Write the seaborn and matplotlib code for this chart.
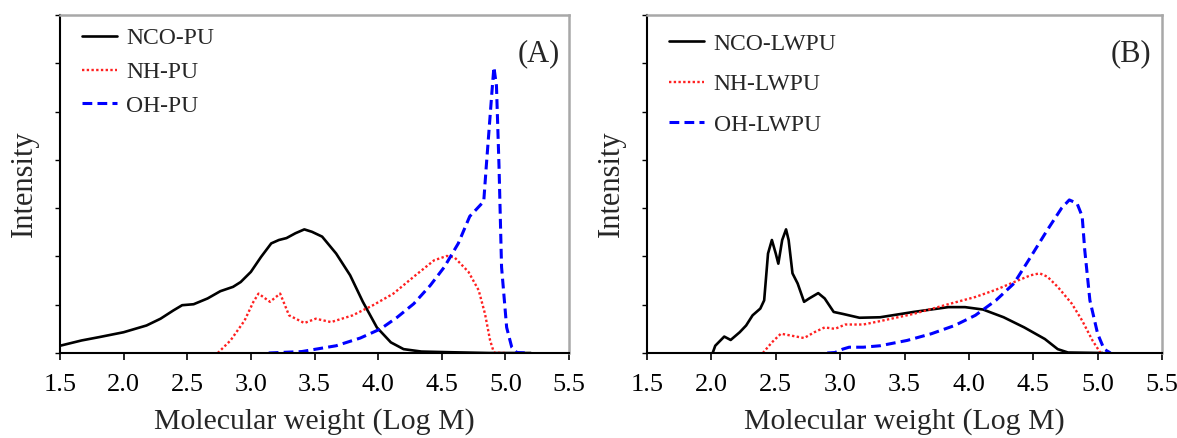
import numpy as np
import pandas as pd
import matplotlib
matplotlib.use('Agg')
import matplotlib.pyplot as plt
import seaborn as sns

# ---- Panel A: PU samples ----
nco_pu_x = [1.5, 1.67, 1.81, 2.0, 2.18, 2.29, 2.39, 2.46, 2.55, 2.66, 2.76, 2.86, 2.92, 3.0, 3.08,
            3.16, 3.22, 3.28, 3.35, 3.42, 3.48, 3.56, 3.67, 3.78, 3.88, 3.99, 4.10, 4.20, 4.34, 4.6, 4.87, 5.2]
nco_pu_y = [0.15, 0.26, 0.33, 0.43, 0.57, 0.71, 0.88, 0.99, 1.01, 1.13, 1.28, 1.37, 1.47, 1.68, 1.99,
            2.27, 2.34, 2.38, 2.48, 2.56, 2.51, 2.41, 2.06, 1.61, 1.06, 0.53, 0.22, 0.08, 0.03, 0.014, 0.0, 0.0]

nh_pu_x = [2.74, 2.84, 2.95, 3.02, 3.06, 3.15, 3.23, 3.30, 3.42, 3.51, 3.63, 3.80, 3.96, 4.12, 4.28,
           4.44, 4.54, 4.60, 4.71, 4.79, 4.84, 4.88, 4.91, 5.0]
nh_pu_y = [0.0, 0.26, 0.67, 1.06, 1.23, 1.06, 1.23, 0.78, 0.62, 0.71, 0.64, 0.78, 0.99, 1.23, 1.58,
           1.92, 2.01, 1.98, 1.68, 1.30, 0.81, 0.26, 0.01, 0.0]

oh_pu_x = [3.14, 3.40, 3.67, 3.86, 4.02, 4.15, 4.28, 4.41, 4.52, 4.63, 4.72, 4.77, 4.83, 4.85, 4.88,
           4.90, 4.91, 4.93, 4.95, 4.97, 5.01, 5.05, 5.09, 5.18]
oh_pu_y = [0.0, 0.03, 0.15, 0.31, 0.5, 0.74, 1.02, 1.40, 1.78, 2.27, 2.83, 2.97, 3.14, 3.87, 4.91,
           5.60, 5.92, 5.53, 3.87, 1.78, 0.53, 0.12, 0.01, 0.0]

# ---- Panel B: LWPU samples ----
nco_lw_x = [2.01, 2.03, 2.10, 2.15, 2.22, 2.27, 2.32, 2.38, 2.41, 2.44, 2.47, 2.50, 2.52, 2.55, 2.58,
            2.60, 2.63, 2.67, 2.72, 2.76, 2.83, 2.88, 2.95, 3.02, 3.15, 3.31, 3.57, 3.84, 3.97, 4.11,
            4.27, 4.43, 4.59, 4.69, 4.77, 5.04]
nco_lw_y = [0.0, 0.15, 0.34, 0.27, 0.43, 0.57, 0.78, 0.92, 1.09, 2.06, 2.34, 2.06, 1.85, 2.34, 2.56,
            2.34, 1.65, 1.44, 1.06, 1.13, 1.24, 1.13, 0.85, 0.81, 0.73, 0.74, 0.85, 0.95, 0.95, 0.90,
            0.74, 0.53, 0.29, 0.08, 0.01, 0.0]

nh_lw_x = [2.40, 2.47, 2.54, 2.62, 2.72, 2.80, 2.88, 2.96, 3.04, 3.18, 3.31, 3.57, 3.84, 4.05, 4.21,
           4.37, 4.48, 4.55, 4.61, 4.69, 4.80, 4.88, 4.96, 5.02]
nh_lw_y = [0.0, 0.22, 0.40, 0.36, 0.31, 0.43, 0.53, 0.50, 0.59, 0.59, 0.66, 0.81, 1.01, 1.16, 1.31,
           1.49, 1.61, 1.65, 1.58, 1.37, 1.02, 0.67, 0.26, 0.01]

oh_lw_x = [2.90, 2.96, 3.02, 3.07, 3.18, 3.31, 3.52, 3.71, 3.89, 4.05, 4.21, 4.35, 4.48, 4.61, 4.72,
           4.78, 4.84, 4.88, 4.90, 4.94, 5.0, 5.05, 5.10]
oh_lw_y = [0.0, 0.01, 0.08, 0.12, 0.12, 0.15, 0.26, 0.40, 0.57, 0.78, 1.09, 1.44, 1.99, 2.55, 3.0,
           3.17, 3.10, 2.83, 2.13, 1.09, 0.40, 0.08, 0.0]

labels_a = ['NCO-PU', 'NH-PU', 'OH-PU']
labels_b = ['NCO-LWPU', 'NH-LWPU', 'OH-LWPU']
x_ticks = [1.5, 2.0, 2.5, 3.0, 3.5, 4.0, 4.5, 5.0, 5.5]

sns.set_style("ticks")
plt.rcParams['font.family'] = ['Liberation Serif', 'DejaVu Serif']

fig = plt.figure(figsize=(11.77, 4.38), dpi=100)
ax_a = fig.add_axes([60 / 1177, 85 / 438, 509 / 1177, 338 / 438])
ax_b = fig.add_axes([647 / 1177, 85 / 438, 515 / 1177, 338 / 438])

styles = [
    dict(color='black', linestyle='-', linewidth=1.9),
    dict(color='#ff2020', linestyle=(0, (1, 1.0)), linewidth=1.7),
    dict(color='#0000ff', linestyle=(0, (3.2, 1.7)), linewidth=2.2),
]

panels = [
    (ax_a, [(nco_pu_x, nco_pu_y), (nh_pu_x, nh_pu_y), (oh_pu_x, oh_pu_y)], labels_a, '(A)', 0.52, 1.012),
    (ax_b, [(nco_lw_x, nco_lw_y), (nh_lw_x, nh_lw_y), (oh_lw_x, oh_lw_y)], labels_b, '(B)', 0.8, 0.995),
]

for ax, series, labels, tag, spacing, top in panels:
    for (xs, ys), lab, st in zip(series, labels, styles):
        sns.lineplot(x=xs, y=ys, ax=ax, label=lab, estimator=None, sort=False, **st)

    ax.set_xlim(1.5, 5.5)
    ax.set_ylim(0, 7)
    ax.set_xticks(x_ticks)
    ax.set_xticklabels([f'{t:.1f}' for t in x_ticks])
    ax.set_yticks(range(0, 8))
    ax.set_yticklabels([])
    ax.tick_params(axis='x', direction='out', length=5, width=1.2, labelsize=19, pad=10, colors='black')
    ax.tick_params(axis='y', direction='out', length=3.5, width=1.0, colors='black')
    ax.set_xlabel('Molecular weight (Log M)', fontsize=21.5, labelpad=9)
    ax.set_ylabel('Intensity', fontsize=22, labelpad=8)

    for side in ['left', 'bottom']:
        ax.spines[side].set_color('black')
        ax.spines[side].set_linewidth(1.5)
    for side in ['top', 'right']:
        ax.spines[side].set_color('#a8a8a8')
        ax.spines[side].set_linewidth(1.8)

    ax.text(0.94, 0.885, tag, transform=ax.transAxes, fontsize=22, ha='center', va='center')

    ax.legend(loc='upper left', bbox_to_anchor=(0.01, top), frameon=False, fontsize=17,
              handlelength=1.5, handletextpad=0.4, labelspacing=spacing, borderaxespad=0.3)

fig.savefig('out.png', dpi=100)
